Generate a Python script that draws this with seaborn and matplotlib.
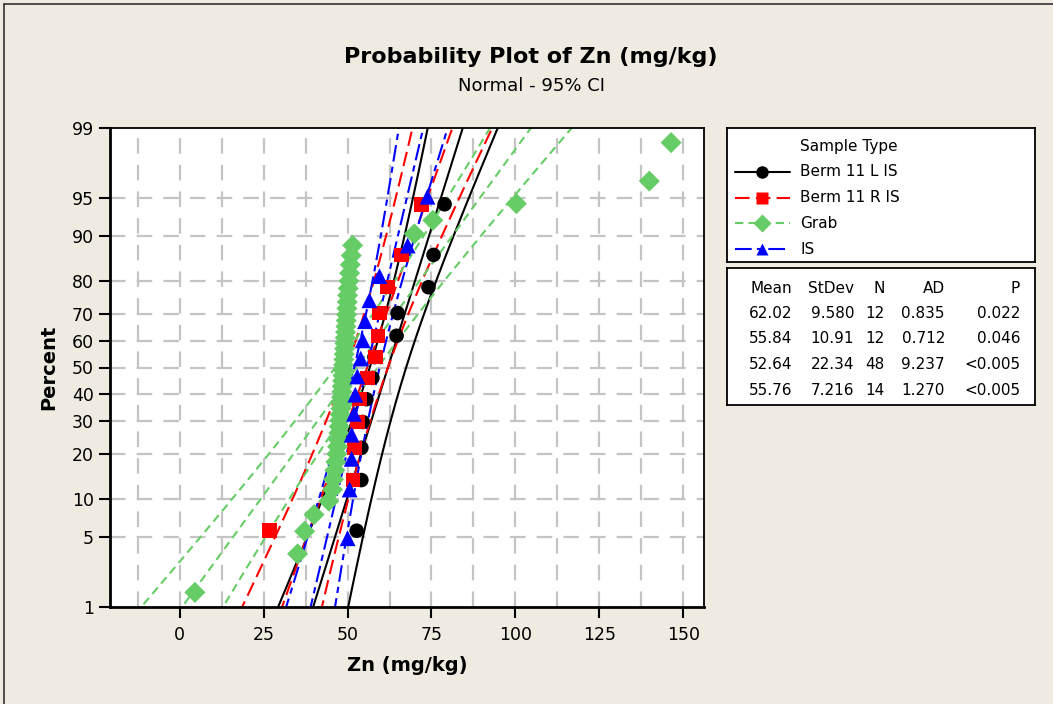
from statistics import NormalDist
import numpy as np
import pandas as pd
import matplotlib
matplotlib.use("Agg")
import matplotlib.pyplot as plt
from matplotlib.lines import Line2D
import seaborn as sns

# %% data

groups = ["Berm 11 L IS", "Berm 11 R IS", "Grab", "IS"]

berm_l = [52.7, 54.1, 54.1, 54.5, 55.6, 57.4, 58.0, 64.6, 64.9, 74.1, 75.6, 78.9]
berm_r = [26.8, 51.6, 52.1, 53.0, 53.6, 56.0, 58.3, 59.0, 59.5, 61.9, 66.1, 72.0]
grab = [4.5, 35.1, 37.2, 40.0, 44.4, 45.5,
        45.8, 46.2, 46.5, 46.8, 47.0, 47.2, 47.4, 47.5, 47.7, 47.8,
        48.0, 48.1, 48.2, 48.3, 48.4, 48.5, 48.6, 48.7, 48.8, 48.9,
        49.0, 49.1, 49.2, 49.3, 49.4, 49.5, 49.6, 49.7, 49.8, 49.9,
        50.0, 50.2, 50.4, 50.6, 50.8, 51.1, 51.5,
        69.9, 75.4, 100.3, 139.9, 146.4]
is_vals = [50.0, 50.6, 51.2, 51.2, 51.9, 52.3, 52.9, 53.9, 54.5, 55.2,
           56.5, 59.5, 67.9, 73.8]

means = [62.02, 55.84, 52.64, 55.76]
stdevs = ["9.580", "10.91", "22.34", "7.216"]
ns = [12, 12, 48, 14]
ads = ["0.835", "0.712", "9.237", "1.270"]
pvals = ["0.022", "0.046", "<0.005", "<0.005"]

y_ticks = [1, 5, 10, 20, 30, 40, 50, 60, 70, 80, 90, 95, 99]
x_ticks = [0, 25, 50, 75, 100, 125, 150]

# %% long table with Benard plotting positions

rows = []
for g, vals in zip(groups, [berm_l, berm_r, grab, is_vals]):
    v = np.sort(vals)
    n = len(v)
    pct = (np.arange(1, n + 1) - 0.3) / (n + 0.4) * 100
    for a, b in zip(v, pct):
        rows.append((g, a, b))
df = pd.DataFrame(rows, columns=["Sample Type", "Zn", "Percent"])

# %% normal probability scale

nd = NormalDist()
_ppf = np.vectorize(lambda p: nd.inv_cdf(p), otypes=[float])
_cdf = np.vectorize(lambda z: nd.cdf(z), otypes=[float])


def fwd(y):
    y = np.clip(np.asarray(y, dtype=float) / 100, 1e-9, 1 - 1e-9)
    return _ppf(y)


def inv(z):
    return _cdf(np.asarray(z, dtype=float)) * 100


bg = "#efebe1"
colors = ["black", "#ff0000", "#66cc66", "#0000ff"]
markers = ["o", "s", "D", "^"]
msizes = [110, 110, 115, 130]
dashes = [(None, None), (7, 3), (4, 2.5), (8, 2.5, 3, 2.5)]

sns.set_style("white")
plt.rcParams["font.family"] = ["DejaVu Sans"]
plt.rcParams.update({"text.color": "black", "axes.labelcolor": "black",
                     "xtick.color": "black", "ytick.color": "black"})

fig = plt.figure(figsize=(10.53, 7.04), dpi=100, facecolor=bg)
ax = fig.add_axes([110 / 1053, 97 / 704, 594 / 1053, 479 / 704])
ax.set_yscale("function", functions=(fwd, inv))
ax.set_ylim(1, 99)
ax.set_xlim(-20.8, 156.2)

# grid every 12.5 on x, at every percent tick on y
for gx in np.arange(-12.5, 156, 12.5):
    ax.axvline(gx, color="#c4c4c4", lw=1.6, dashes=(7, 5), zorder=0)
for gy in y_ticks[1:-1]:
    ax.axhline(gy, color="#c4c4c4", lw=1.6, dashes=(7, 5), zorder=0)

# fit lines and 95% CI bands
z = np.linspace(-2.4, 2.4, 200)
pz = inv(z)
for m, s, n, c, d in zip(means, stdevs, ns, colors, dashes):
    s = float(s)
    se = s * np.sqrt(1 / n + z ** 2 / (2 * n))
    for x in (m + s * z, m + s * z - 1.96 * se, m + s * z + 1.96 * se):
        line, = ax.plot(x, pz, color=c, lw=1.5, zorder=2)
        if d[0] is not None:
            line.set_dashes(d)

for g, c, mk, ms in zip(groups, colors, markers, msizes):
    sub = df[df["Sample Type"] == g]
    sns.scatterplot(data=sub, x="Zn", y="Percent", color=c, marker=mk, s=ms,
                    edgecolor="none", ax=ax, zorder=3, legend=False)

ax.set_ylim(1, 99)
ax.set_xlim(-20.8, 156.2)
ax.set_yticks(y_ticks)
ax.set_yticklabels([str(t) for t in y_ticks])
ax.yaxis.set_minor_locator(matplotlib.ticker.NullLocator())
ax.set_xticks(x_ticks)
ax.tick_params(axis="both", direction="out", length=8, width=1.5,
               labelsize=12.5, color="black", labelcolor="black",
               left=True, bottom=True)
ax.tick_params(axis="x", pad=6)
for sp in ax.spines.values():
    sp.set_color("black")
    sp.set_linewidth(1.3)
ax.spines["left"].set_linewidth(2)
ax.spines["bottom"].set_linewidth(2)
ax.set_xlabel("Zn (mg/kg)", fontsize=14, fontweight="bold", labelpad=8)
ax.set_ylabel("Percent", fontsize=14, fontweight="bold", labelpad=10)
ax.set_facecolor("white")

fig.text(531 / 1053, 1 - 57 / 704, "Probability Plot of Zn (mg/kg)",
         ha="center", va="center", fontsize=16, fontweight="bold")
fig.text(531 / 1053, 1 - 86 / 704, "Normal - 95% CI",
         ha="center", va="center", fontsize=13)

# figure border (left and top only)
fig.add_artist(Line2D([4 / 1053, 4 / 1053], [0, 1 - 4 / 704], color="#333333", lw=1.2))
fig.add_artist(Line2D([4 / 1053, 1], [1 - 4 / 704, 1 - 4 / 704], color="#333333", lw=1.2))

# %% legend box
lax = fig.add_axes([727 / 1053, 1 - 262 / 704, 308 / 1053, 134 / 704])
lax.set_xlim(727, 1035)
lax.set_ylim(262, 128)
lax.set_xticks([])
lax.set_yticks([])
lax.set_facecolor("white")
for sp in lax.spines.values():
    sp.set_color("black")
    sp.set_linewidth(1.3)
lax.text(800, 147, "Sample Type", fontsize=11, va="center")
for i, (g, c, mk, d) in enumerate(zip(groups, colors, markers, dashes)):
    yy = 172 + i * 25.7
    ln, = lax.plot([735, 790], [yy, yy], color=c, lw=1.5)
    if d[0] is not None:
        ln.set_dashes(d)
    lax.plot([762], [yy], marker=mk, color=c, ms=9, mec="none")
    lax.text(800, yy, g, fontsize=11, va="center")

# %% stats table
tax = fig.add_axes([727 / 1053, 1 - 405 / 704, 308 / 1053, 137 / 704])
tax.set_xlim(727, 1035)
tax.set_ylim(405, 268)
tax.set_xticks([])
tax.set_yticks([])
tax.set_facecolor("white")
for sp in tax.spines.values():
    sp.set_color("black")
    sp.set_linewidth(1.3)
col_x = [792, 854, 885, 945, 1020]
headers = ["Mean", "StDev", "N", "AD", "P"]
for cx, h in zip(col_x, headers):
    tax.text(cx, 288, h, ha="right", va="center", fontsize=11)
for i in range(len(groups)):
    yy = 313 + i * 25.7
    cells = [f"{means[i]:.2f}", stdevs[i], str(ns[i]), ads[i], pvals[i]]
    for cx, t in zip(col_x, cells):
        tax.text(cx, yy, t, ha="right", va="center", fontsize=11)

fig.savefig("out.png", dpi=100, facecolor=bg)
